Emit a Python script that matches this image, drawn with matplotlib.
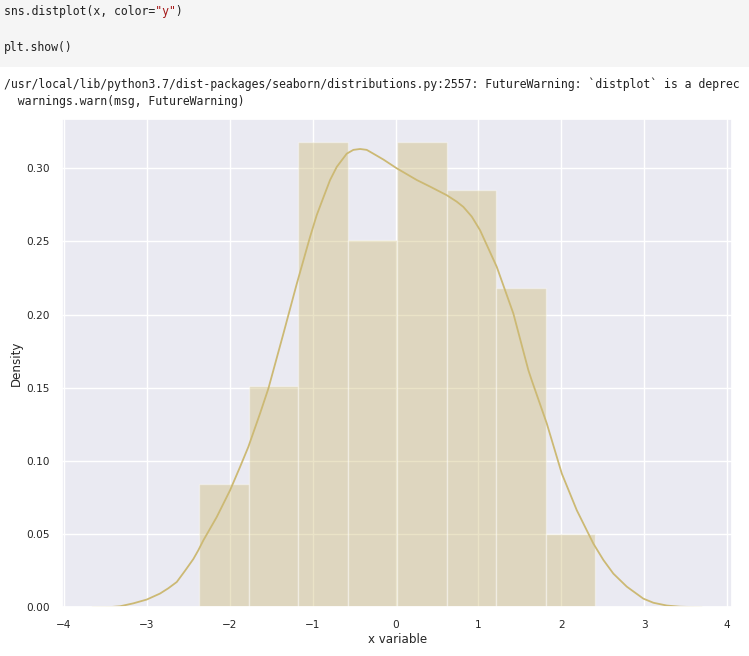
import numpy as np
import matplotlib
matplotlib.use("Agg")
import matplotlib.pyplot as plt
import seaborn as sns

# ---- data ----
bin_edges = [-2.370, -1.772, -1.175, -0.577, 0.020, 0.618, 1.215, 1.813, 2.410]
bar_density = [0.084, 0.151, 0.318, 0.251, 0.318, 0.285, 0.218, 0.050]

kde_x = [-3.657, -3.432, -3.323, -3.163, -3.001, -2.841, -2.741, -2.639, -2.539,
         -2.439, -2.379, -2.318, -2.157, -1.996, -1.876, -1.776, -1.635, -1.534,
         -1.353, -1.192, -1.032, -0.951, -0.871, -0.790, -0.709, -0.589, -0.509,
         -0.428, -0.348, -0.268, -0.147, 0.014, 0.135, 0.256, 0.416, 0.618,
         0.738, 0.818, 0.919, 1.019, 1.221, 1.421, 1.602, 1.643, 1.824, 2.005,
         2.186, 2.386, 2.507, 2.627, 2.789, 2.989, 3.110, 3.271, 3.432, 3.694]
kde_y = [0.0000, 0.0002, 0.0007, 0.0027, 0.0053, 0.0094, 0.0130, 0.0173, 0.0250,
         0.0330, 0.0390, 0.0458, 0.0617, 0.0800, 0.0959, 0.1096, 0.1324, 0.1495,
         0.1870, 0.2210, 0.2530, 0.2680, 0.2800, 0.2920, 0.3010, 0.3100, 0.3126,
         0.3132, 0.3126, 0.3100, 0.3060, 0.3000, 0.2960, 0.2920, 0.2875, 0.2816,
         0.2772, 0.2736, 0.2670, 0.2577, 0.2326, 0.2007, 0.1620, 0.1550, 0.1256,
         0.0914, 0.0663, 0.0435, 0.0323, 0.0230, 0.0141, 0.0059, 0.0031, 0.0012,
         0.0004, 0.0000]

code_parts = ['sns.distplot(x, color=', '"y"', ')']
code_line2 = 'plt.show()'
warn_lines = [
    "/usr/local/lib/python3.7/dist-packages/seaborn/distributions.py:2557: FutureWarning: "
    "`distplot` is a deprec",
    "  warnings.warn(msg, FutureWarning)",
]
x_label = "x variable"
y_label = "Density"

# ---- style ----
sns.set_theme(style="darkgrid")
plt.rcParams['font.family'] = ['DejaVu Sans']

W, H = 749, 656
fig = plt.figure(figsize=(W / 100, H / 100), dpi=100)
fig.patch.set_facecolor("white")

def fx(px):
    return px / W

def fy(py):
    return 1 - py / H

# code cell background
fig.patches.append(plt.Rectangle((0, fy(67)), 1, 67 / H, transform=fig.transFigure,
                                 facecolor="#f5f5f5", edgecolor="none", zorder=0))

mono = dict(family="DejaVu Sans Mono", fontsize=8.3, va="center", ha="left")
x0 = 4
# monospace: dark text with the string blanked, red string overlaid at the same columns
dark_line = code_parts[0] + " " * len(code_parts[1]) + code_parts[2]
red_line = " " * len(code_parts[0]) + code_parts[1] + " " * len(code_parts[2])
fig.text(fx(x0), fy(12), dark_line, color="#212121", **mono)
fig.text(fx(x0), fy(12), red_line, color="#a31515", **mono)
fig.text(fx(x0), fy(48), code_line2, color="#212121", **mono)
fig.text(fx(x0), fy(84), warn_lines[0], color="#212121", **mono)
fig.text(fx(x0), fy(102), warn_lines[1], color="#212121", **mono)

# ---- axes ----
left_px, right_px, top_px, bot_px = 61.9, 732.3, 118.7, 607.3
ax = fig.add_axes([fx(left_px), fy(bot_px), (right_px - left_px) / W, (bot_px - top_px) / H])

color = "#CCB974"
edges = np.array(bin_edges)
ax.bar(edges[:-1], bar_density, width=np.diff(edges), align="edge",
       color=color, alpha=0.4, edgecolor="white", linewidth=1.0)
ax.plot(kde_x, kde_y, color=color, linewidth=1.3, solid_joinstyle="round")

ax.set_xlabel(x_label, fontsize=8.6, color=".15", labelpad=2)
ax.set_ylabel(y_label, fontsize=8.6, color=".15", labelpad=2)
ax.tick_params(labelsize=7.6, colors=".15", pad=3)

fig.savefig("out.png", dpi=100, facecolor="white")
